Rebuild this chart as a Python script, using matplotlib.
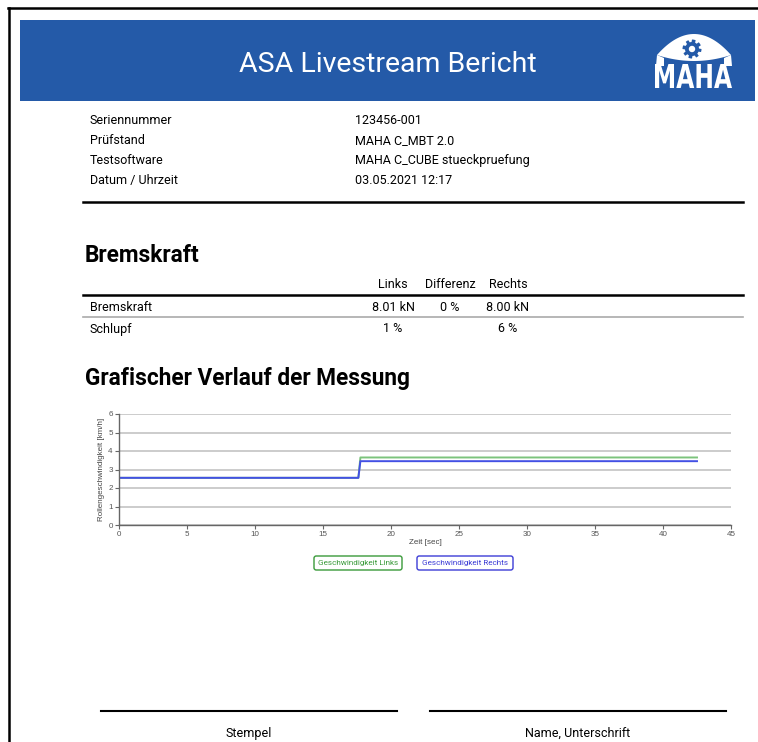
"""
ASA Livestream Bericht - report page with speed-over-time chart.
"""
import numpy as np
import matplotlib.pyplot as plt
from matplotlib.patches import Rectangle, FancyBboxPatch, Polygon, PathPatch
from matplotlib.lines import Line2D
from matplotlib.textpath import TextPath
from matplotlib.font_manager import FontProperties
from matplotlib.path import Path

W, H = 758, 742

# report meta data
info_labels = ["Seriennummer", "Prüfstand", "Testsoftware", "Datum / Uhrzeit"]
info_values = ["123456-001", "MAHA C_MBT 2.0", "MAHA C_CUBE stueckpruefung", "03.05.2021 12:17"]

# brake force table
table_cols = ["Links", "Differenz", "Rechts"]
table_rows = ["Bremskraft", "Schlupf"]
table_vals = [["8.01 kN", "0 %", "8.00 kN"],
              ["1 %", "", "6 %"]]

# measured roller speed (km/h) over time (sec)
zeit = [0.0, 17.6, 17.75, 42.5]
speed_links = [2.55, 2.55, 3.65, 3.65]
speed_rechts = [2.55, 2.55, 3.45, 3.45]
legend_labels = ["Geschwindigkeit Links", "Geschwindigkeit Rechts"]

BLUE = "#245aa8"
GREEN_LINE = "#7cc47c"
GREEN = "#3a9a3a"
RBLUE = "#4350e4"
RBLUE_TXT = "#3d3dd6"


def fx(x):
    return x / W


def fy(y):
    return 1 - y / H


def hline(fig, x0, x1, y, lw=1.5, color="black"):
    fig.add_artist(Line2D([fx(x0), fx(x1)], [fy(y), fy(y)], lw=lw, color=color,
                          transform=fig.transFigure))


def px_poly(fig, pts, color):
    fig.add_artist(Polygon([(fx(x), fy(y)) for x, y in pts], closed=True,
                           transform=fig.transFigure, color=color, lw=0))


plt.rcParams['font.family'] = ['Roboto', 'DejaVu Sans']
fig = plt.figure(figsize=(W / 100, H / 100), dpi=100)

# page border (top and left)
hline(fig, 8, 758, 8, lw=1.8)
fig.add_artist(Line2D([fx(9), fx(9)], [fy(8), fy(742)], lw=1.8, color="black",
                      transform=fig.transFigure))

# header banner
fig.add_artist(Rectangle((fx(20), fy(101)), fx(755) - fx(20), fy(20) - fy(101),
                         transform=fig.transFigure, color=BLUE, lw=0))
fig.text(fx(388), fy(64), "ASA Livestream Bericht", color="white", fontsize=20.5,
         ha="center", va="center")

# MAHA logo: almond eye with gear, lettering below
u = np.linspace(-1, 1, 41)
top = [(694 + 37 * a, 55 - 21 * (1 - a ** 2)) for a in u]
bot = [(694 - 37 * a, 55 + 6 * (1 - a ** 2)) for a in u]
px_poly(fig, top + bot, "white")
# flares joining eye tips to the lettering
px_poly(fig, [(657, 55), (664, 58), (664, 66), (656, 66)], "white")
px_poly(fig, [(731, 55), (724, 58), (724, 66), (732, 66)], "white")
# gear
ang = np.linspace(0, 2 * np.pi, 97)[:-1]
r = np.where((np.floor(ang / (2 * np.pi / 16)) % 2) == 0, 9.5, 7.0)
px_poly(fig, list(zip(692 + r * np.cos(ang), 49 + r * np.sin(ang))), BLUE)
hole = np.linspace(0, 2 * np.pi, 30)
px_poly(fig, list(zip(692 + 3.2 * np.cos(hole), 49 + 3.2 * np.sin(hole))), "white")
# lettering, stretched to fill box
tp = TextPath((0, 0), "MAHA", size=10, prop=FontProperties(family="DejaVu Sans", weight="bold"))
ext = tp.get_extents()
x0, x1, y0, y1 = 655, 732, 64, 88
verts = tp.vertices.copy()
verts[:, 0] = x0 + (verts[:, 0] - ext.x0) / ext.width * (x1 - x0)
verts[:, 1] = y1 - (verts[:, 1] - ext.y0) / ext.height * (y1 - y0)
verts = np.column_stack([verts[:, 0] / W, 1 - verts[:, 1] / H])
fig.add_artist(PathPatch(Path(verts, tp.codes), transform=fig.transFigure, color="white", lw=0))

# info block
for i, (lab, val) in enumerate(zip(info_labels, info_values)):
    y = 120.5 + 20 * i
    fig.text(fx(90), fy(y), lab, fontsize=9, ha="left", va="center")
    fig.text(fx(355), fy(y), val, fontsize=9, ha="left", va="center")
hline(fig, 83, 743, 202, lw=1.8)

# Bremskraft section
fig.text(fx(85), fy(256), "Bremskraft", fontsize=16.3, weight="bold", ha="left", va="center")
col_x = [393, 450, 508]
for cx, c in zip(col_x, table_cols):
    fig.text(fx(cx), fy(285), c, fontsize=9, ha="center", va="center")
hline(fig, 83, 743, 295, lw=1.8)
for r_i, (row, vals) in enumerate(zip(table_rows, table_vals)):
    y = 307 + 22 * r_i
    fig.text(fx(90), fy(y), row, fontsize=9, ha="left", va="center")
    for cx, v in zip(col_x, vals):
        fig.text(fx(cx), fy(y), v, fontsize=9, ha="center", va="center")
hline(fig, 83, 743, 317, lw=1.2, color="#aaaaaa")

fig.text(fx(85), fy(379), "Grafischer Verlauf der Messung", fontsize=16.3, weight="bold",
         ha="left", va="center")

# chart
ax = fig.add_axes([fx(119), fy(525), fx(731) - fx(119), fy(414) - fy(525)])
ax.plot(zeit, speed_links, color=GREEN_LINE, lw=1.4)
ax.plot(zeit, speed_rechts, color=RBLUE, lw=1.4)
ax.set_xlim(0, 45)
ax.set_ylim(0, 6)
ax.set_xticks(np.arange(0, 46, 5))
ax.set_yticks(np.arange(0, 7, 1))
ax.grid(axis="y", color="#c8c8c8", lw=1.3)
ax.set_axisbelow(True)
for s in ["top", "right"]:
    ax.spines[s].set_visible(False)
for s in ["left", "bottom"]:
    ax.spines[s].set_color("#666666")
    ax.spines[s].set_linewidth(1.0)
ax.tick_params(length=3, width=0.8, color="#666666", labelsize=5.8, labelcolor="#555555",
               pad=1.5)
for lab in ax.get_xticklabels() + ax.get_yticklabels():
    lab.set_family("Liberation Sans")
ax.set_xlabel("Zeit [sec]", fontsize=5.8, color="#444444", labelpad=0.5, family="Liberation Sans")
ax.set_ylabel("Rollengeschwindigkeit [km/h]", fontsize=5.8, color="#444444", labelpad=2,
              family="Liberation Sans")

# legend boxes
leg = [(358, 88, legend_labels[0], GREEN), (465, 96, legend_labels[1], RBLUE_TXT)]
for cx, w, lab, col in leg:
    fig.add_artist(FancyBboxPatch((fx(cx - w / 2), fy(570)), fx(w), fy(556) - fy(570),
                                  boxstyle="round,pad=0,rounding_size=0.003",
                                  transform=fig.transFigure, fc="white", ec=col, lw=1.0))
    fig.text(fx(cx), fy(563), lab, fontsize=5.9, color=col, ha="center", va="center")

# signature lines
hline(fig, 101, 397, 711, lw=1.5)
hline(fig, 430, 726, 711, lw=1.5)
fig.text(fx(249), fy(733), "Stempel", fontsize=9, ha="center", va="center")
fig.text(fx(578), fy(733), "Name, Unterschrift", fontsize=9, ha="center", va="center")

fig.savefig("out.png", dpi=100)
